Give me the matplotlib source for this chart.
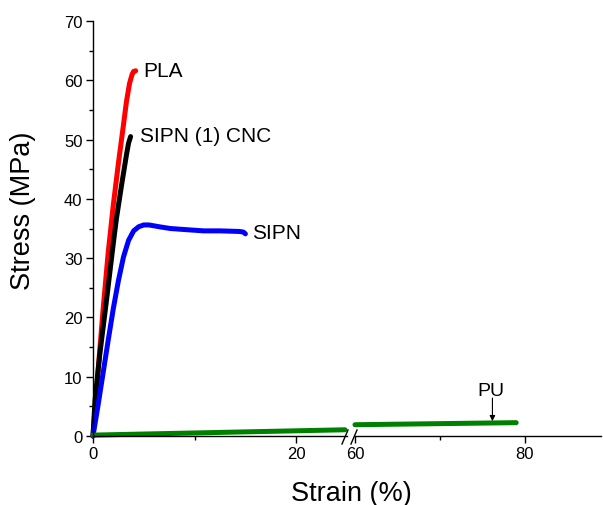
import numpy as np
import matplotlib
matplotlib.use("Agg")
import matplotlib.pyplot as plt

plt.rcParams['font.family'] = ['Liberation Sans', 'DejaVu Sans']

# stress-strain curves
pla_strain = [0, 0.2, 0.5, 1.0, 1.5, 2.0, 2.5, 3.0, 3.3, 3.6, 3.85, 4.0, 4.2]
pla_stress = [0, 4.5, 11, 21.5, 31, 39, 46, 52.5, 56.5, 59.5, 61.0, 61.5, 61.6]

cnc_strain = [0, 0.2, 0.65, 1.3, 2.0, 2.3, 2.8, 3.3, 3.5, 3.7]
cnc_stress = [0, 6, 13.5, 22.5, 32.5, 36.6, 42.2, 47.5, 49.4, 50.5]

sipn_strain = [0, 0.5, 1.0, 1.5, 2.0, 2.5, 3.0, 3.5, 4.0, 4.5, 5.0, 5.5, 6.5, 7.6, 9.2,
               10.9, 12.5, 14.4, 14.8, 15.0]
sipn_stress = [0, 5.2, 10.7, 16.2, 21.5, 26.2, 30.2, 33.0, 34.6, 35.3, 35.6, 35.6, 35.3,
               35.0, 34.8, 34.6, 34.6, 34.5, 34.4, 34.1]

pu_strain = [0, 24.8, 60, 79]
pu_stress = [0.15, 1.05, 1.9, 2.25]

W, H = 603, 506
fig = plt.figure(figsize=(W / 100, H / 100), dpi=100)

x0, x_break1, x_break2, x1 = 93, 347, 355, 601
y0, y1 = 437, 22
ax1 = fig.add_axes([x0 / W, 1 - y0 / H, (x_break1 - x0) / W, (y0 - y1) / H])
ax2 = fig.add_axes([x_break2 / W, 1 - y0 / H, (x1 - x_break2) / W, (y0 - y1) / H], sharey=ax1)
for ax in (ax1, ax2):
    ax.patch.set_alpha(0)

lw = 3.6
kw = dict(lw=lw, solid_capstyle='round', solid_joinstyle='round', clip_on=False)
ax1.plot(pla_strain, pla_stress, color='#ff0000', **kw)
ax1.plot(cnc_strain, cnc_stress, color='black', **kw)
ax1.plot(sipn_strain, sipn_stress, color='#0000ff', **kw)
ax1.plot(pu_strain[:2], pu_stress[:2], color='#008000', **kw)
ax2.plot(pu_strain[2:], pu_stress[2:], color='#008000', **kw)

ax1.set_xlim(0, 25)
ax2.set_xlim(60, 89)
ax1.set_ylim(0, 70)

ax1.set_xticks([0, 20])
ax1.set_xticks([10], minor=True)
ax2.set_xticks([60, 80])
ax2.set_xticks([70], minor=True)
ax1.set_yticks(range(0, 71, 10))
ax1.set_yticks(range(5, 70, 10), minor=True)

for ax in (ax1, ax2):
    for s in ('top', 'right'):
        ax.spines[s].set_visible(False)
    ax.spines['bottom'].set_linewidth(1.0)
    ax.spines['left'].set_linewidth(1.0)
    ax.tick_params(which='major', length=5, width=1.0, labelsize=12, pad=2.5, colors='black')
    ax.tick_params(which='minor', length=3, width=1.0)
ax2.spines['left'].set_visible(False)
ax2.tick_params(axis='y', which='both', left=False, labelleft=False)

# break marks
for xb in (342, 351):
    fig.add_artist(plt.Line2D([xb / W, (xb + 6) / W], [1 - 445 / H, 1 - 431 / H],
                              color='black', lw=1.0))

# curve labels
ax1.text(4.95, 61.6, 'PLA', fontsize=15, va='center', ha='left')
ax1.text(4.6, 50.7, 'SIPN (1) CNC', fontsize=15, va='center', ha='left')
ax1.text(15.7, 34.3, 'SIPN', fontsize=15, va='center', ha='left')
ax2.text(76.0, 7.7, 'PU', fontsize=14, va='center', ha='center')
ax2.annotate('', xy=(76.2, 2.5), xytext=(76.2, 6.4),
             arrowprops=dict(arrowstyle='-|>', color='black', lw=0.8,
                             mutation_scale=8, shrinkA=0, shrinkB=0))

fig.text(351 / W, 1 - 494 / H, 'Strain (%)', fontsize=19.5, ha='center', va='center')
fig.text(23 / W, 1 - 211 / H, 'Stress (MPa)', fontsize=19.5, ha='center', va='center',
         rotation=90)

fig.savefig('out.png', dpi=100)
